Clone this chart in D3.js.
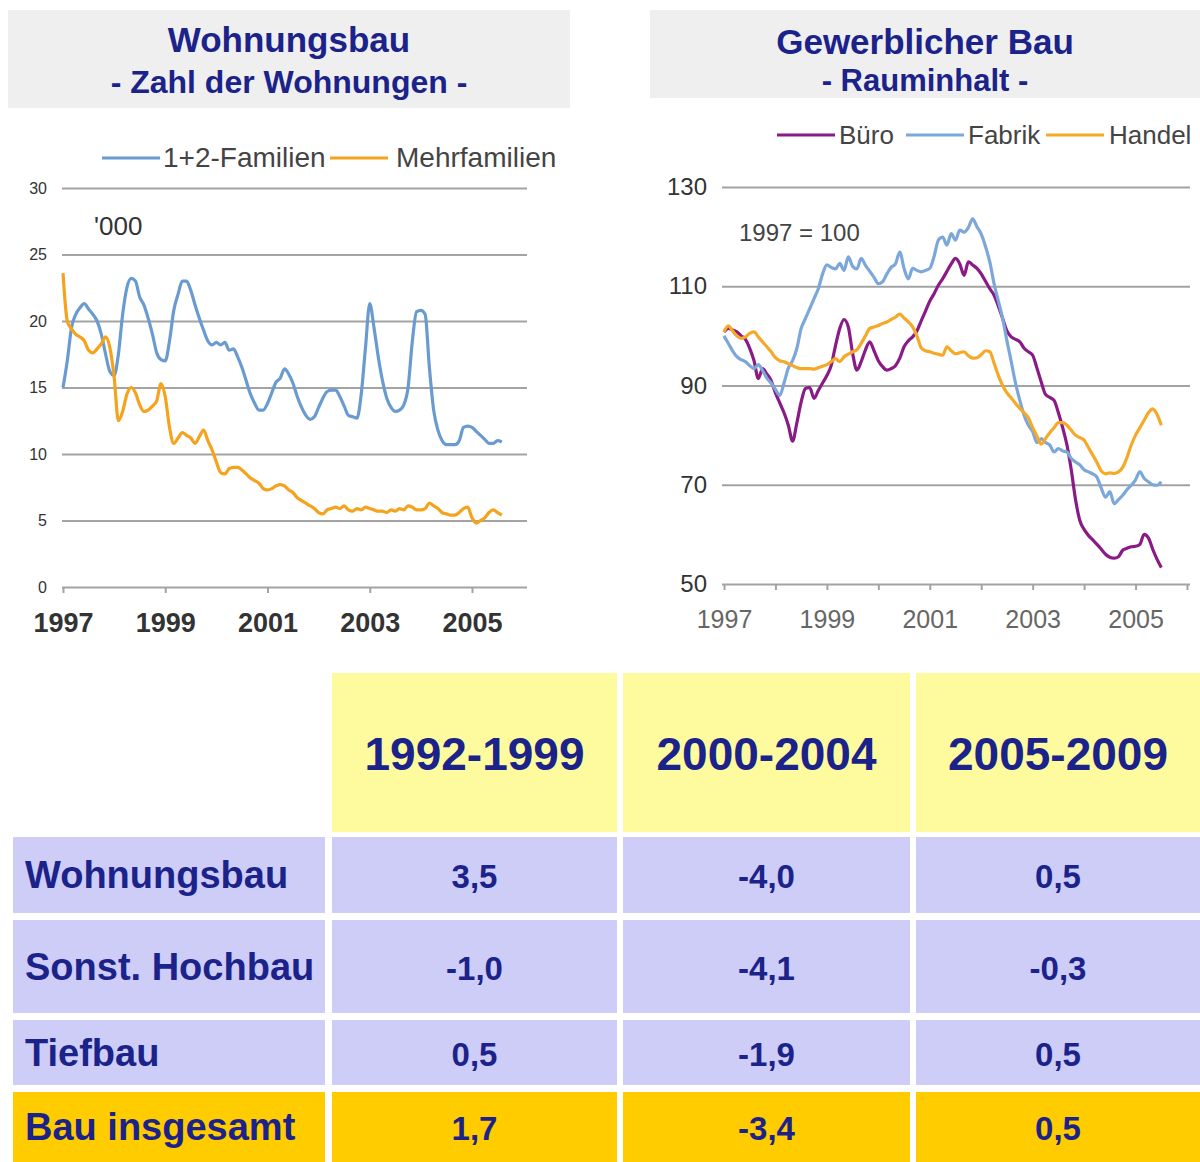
<!DOCTYPE html>
<html>
<head>
<meta charset="utf-8">
<script src="https://cdn.jsdelivr.net/npm/d3@7"></script>
<style>
  body { margin: 0; background: #ffffff; }
  svg text { font-family: "Liberation Sans", Arial, sans-serif; }
</style>
</head>
<body>
<script>
// ---- data ----
// monthly values from Jan 1997
var familien12 = [15.0,17.0,19.5,20.5,21.0,21.3,20.9,20.5,20.0,19.0,17.5,16.2,
  15.9,17.5,20.5,22.5,23.2,23.0,21.8,21.2,20.2,19.0,17.6,17.1,
  17.0,18.5,20.8,22.0,23.0,23.0,22.3,21.2,20.2,19.3,18.5,18.2,
  18.4,18.2,18.4,17.8,17.9,17.3,16.5,15.5,14.5,13.8,13.3,13.3,
  13.8,14.6,15.4,15.7,16.4,16.0,15.3,14.3,13.5,12.9,12.6,12.8,
  13.5,14.2,14.7,14.8,14.8,14.3,13.6,12.9,12.8,12.7,14.5,18.0,
  21.3,19.5,17.3,15.5,14.2,13.5,13.2,13.3,13.7,15.0,18.5,20.7,
  20.8,20.5,16.5,13.3,11.8,11.0,10.7,10.7,10.7,11.0,12.0,12.1,
  12.0,11.7,11.4,11.1,10.8,10.8,11.0,10.9];
var mehrfamilien = [23.6,20.0,19.4,19.0,18.8,18.5,17.8,17.6,17.9,18.3,18.8,18.0,
  15.8,12.5,13.2,14.5,15.0,14.6,13.7,13.2,13.3,13.6,14.0,15.3,
  14.3,12.0,10.8,11.2,11.6,11.4,11.2,10.8,11.3,11.8,11.0,10.3,
  9.4,8.6,8.5,8.9,9.0,9.0,8.8,8.5,8.2,8.0,7.8,7.4,
  7.3,7.4,7.6,7.7,7.6,7.3,7.1,6.7,6.5,6.3,6.1,5.9,
  5.6,5.5,5.8,5.9,6.0,5.9,6.1,5.8,5.7,5.9,5.8,6.0,
  5.9,5.8,5.7,5.7,5.6,5.8,5.7,5.9,5.8,6.1,6.0,5.8,
  5.8,5.9,6.3,6.1,5.9,5.6,5.5,5.4,5.4,5.6,5.9,6.0,
  5.2,4.8,5.0,5.2,5.6,5.8,5.6,5.4];

var buero = [100.8,101.5,101.2,100.8,100.0,99.3,97.5,95.0,91.4,93.4,92.3,91.0,
  88.5,86.5,84.5,82.0,78.8,82.5,86.7,89.4,89.6,87.4,89.0,90.5,
  92.0,94.0,98.0,101.5,103.3,101.8,96.5,93.1,94.8,97.2,98.8,97.0,
  95.0,93.8,93.1,93.4,94.0,95.5,97.8,99.0,99.8,101.0,103.0,105.0,
  107.0,108.5,110.2,111.5,113.0,114.5,115.6,114.5,112.2,114.9,114.3,113.6,
  112.5,111.0,109.5,108.2,106.0,103.5,101.0,99.8,99.3,98.8,97.5,96.8,
  96.1,93.5,90.7,88.2,87.6,87.0,84.5,81.5,78.0,73.0,67.0,62.8,
  61.0,59.8,58.9,58.0,57.0,56.0,55.4,55.2,55.5,56.8,57.2,57.5,
  57.6,58.0,60.0,59.3,57.0,55.0,53.3];
var fabrik = [100.0,98.5,97.0,95.8,95.2,94.8,94.0,93.4,94.2,93.0,91.5,90.5,
  89.2,88.0,90.5,93.5,95.0,97.5,101.5,103.5,105.5,107.5,109.5,112.5,
  114.3,113.8,113.5,114.6,113.2,115.9,114.0,113.5,115.6,114.2,113.0,111.8,
  110.5,110.9,112.5,113.8,114.5,116.9,113.6,111.5,113.6,113.2,112.9,113.2,
  113.6,116.0,119.3,119.9,118.3,120.6,119.3,121.3,120.9,121.8,123.6,122.0,
  120.5,118.0,114.9,110.5,107.0,103.5,99.0,94.8,90.5,87.0,84.0,82.0,
  80.7,78.5,79.3,78.5,78.0,76.6,77.3,76.8,76.6,75.3,74.6,74.0,
  73.0,72.6,72.2,71.5,69.3,67.5,68.6,66.2,67.0,67.9,69.0,69.9,
  71.0,72.6,71.3,70.6,70.0,69.9,70.6];
var handel = [100.8,102.0,101.0,100.0,99.5,99.8,100.5,100.8,99.8,98.8,97.8,96.8,
  95.6,95.0,94.8,94.4,94.0,93.6,93.4,93.4,93.4,93.3,93.6,93.9,
  94.2,94.8,95.4,94.8,95.8,96.3,96.8,97.2,98.5,100.0,101.5,101.8,
  102.1,102.5,102.8,103.3,103.8,104.4,103.6,102.8,101.8,100.0,97.6,97.0,
  96.8,96.5,96.3,96.1,97.8,97.0,96.4,96.6,96.8,96.0,95.5,95.6,
  96.2,97.0,96.8,94.5,92.0,90.0,88.5,87.5,86.4,85.4,84.5,83.5,
  81.5,79.8,78.2,79.3,80.5,81.5,82.5,82.5,82.0,81.0,80.0,79.5,
  79.0,77.5,76.0,74.5,72.8,72.2,72.4,72.3,72.6,73.5,75.5,78.0,
  80.0,81.5,83.0,84.5,85.3,84.2,82.0];

var leftTicksY = [0, 5, 10, 15, 20, 25, 30];
var leftTicksX = [1997, 1999, 2001, 2003, 2005];
var rightTicksY = [50, 70, 90, 110, 130];
var rightTicksX = [1997, 1998, 1999, 2000, 2001, 2002, 2003, 2004, 2005, 2006];
var rightLabelsX = [1997, 1999, 2001, 2003, 2005];

var periods = ["1992-1999", "2000-2004", "2005-2009"];
var sectors = ["Wohnungsbau", "Sonst. Hochbau", "Tiefbau", "Bau insgesamt"];
var growth = [[3.5, -4.0, 0.5], [-1.0, -4.1, -0.3], [0.5, -1.9, 0.5], [1.7, -3.4, 0.5]];

var navy = "#1b238a";
var grid = "#a3a3a3";

var svg = d3.select("body").append("svg")
    .attr("width", 1200)
    .attr("height", 1162);

// ---- title boxes ----
function titleBox(x0, x1, y0, y1, line1, line2, ty1, ty2, fs1, fs2) {
  svg.append("rect").attr("x", x0).attr("y", y0)
    .attr("width", x1 - x0).attr("height", y1 - y0).attr("fill", "#efefef");
  var cx = (x0 + x1) / 2;
  svg.append("text").attr("x", cx).attr("y", ty1).attr("text-anchor", "middle")
    .attr("font-size", fs1).attr("font-weight", "bold").attr("fill", navy).text(line1);
  svg.append("text").attr("x", cx).attr("y", ty2).attr("text-anchor", "middle")
    .attr("font-size", fs2).attr("font-weight", "bold").attr("fill", navy).text(line2);
}
titleBox(8, 570, 10, 108, "Wohnungsbau", "- Zahl der Wohnungen -", 52, 93, 35, 32);
titleBox(650, 1200, 10, 98, "Gewerblicher Bau", "- Rauminhalt -", 54, 91, 35, 31);

// ---- line chart helper ----
function lineChart(opt) {
  var x = d3.scaleLinear().domain(opt.xDomain).range(opt.xRange);
  var y = d3.scaleLinear().domain(opt.yDomain).range(opt.yRange);
  var g = svg.append("g");

  // grid + y labels
  var yAxis = g.append("g")
    .attr("transform", "translate(" + opt.gridX0 + ",0)")
    .call(d3.axisLeft(y).tickValues(opt.yTicks)
      .tickSize(-(opt.gridX1 - opt.gridX0)).tickPadding(opt.labelPad));
  yAxis.select(".domain").remove();
  yAxis.selectAll("line").attr("stroke", grid).attr("stroke-width", 2);
  yAxis.selectAll("text").attr("font-size", opt.yFont).attr("fill", "#333")
    .attr("font-family", "Liberation Sans, Arial, sans-serif");

  // x axis
  var xAxis = g.append("g")
    .attr("transform", "translate(0," + y(opt.yDomain[0]) + ")")
    .call(d3.axisBottom(x).tickValues(opt.xTicks).tickSize(6)
      .tickFormat(function(d) { return opt.xLabels.indexOf(d) >= 0 ? d : ""; })
      .tickPadding(opt.xPad));
  xAxis.select(".domain").remove();
  xAxis.selectAll("line").attr("stroke", grid).attr("stroke-width", 2);
  xAxis.selectAll("text").attr("font-size", opt.xFont).attr("fill", opt.xColor)
    .attr("font-weight", opt.xWeight)
    .attr("font-family", "Liberation Sans, Arial, sans-serif");

  var line = d3.line()
    .x(function(d, i) { return x(1997 + i / 12); })
    .y(function(d) { return y(d); })
    .curve(d3.curveMonotoneX);

  opt.series.forEach(function(s) {
    g.append("path").datum(s.values)
      .attr("fill", "none").attr("stroke", s.color)
      .attr("stroke-width", 3.2).attr("stroke-linejoin", "round")
      .attr("d", line);
  });

  // legend
  opt.series.forEach(function(s) {
    g.append("line").attr("x1", s.lx).attr("x2", s.lx + 58)
      .attr("y1", opt.legendY).attr("y2", opt.legendY)
      .attr("stroke", s.color).attr("stroke-width", 3);
    g.append("text").attr("x", s.lx + s.gap).attr("y", opt.legendY + 9)
      .attr("font-size", opt.legendFont).attr("fill", "#444").text(s.name);
  });
}

lineChart({
  xDomain: [1997, 2005], xRange: [63, 472],
  yDomain: [0, 30], yRange: [587, 188],
  gridX0: 62, gridX1: 527, labelPad: 15, yFont: 16,
  yTicks: leftTicksY, xTicks: leftTicksX, xLabels: leftTicksX,
  xFont: 27, xColor: "#333", xWeight: "bold", xPad: 20,
  legendY: 158, legendFont: 28,
  series: [
    { name: "1+2-Familien", values: familien12, color: "#6a9bd0", lx: 102, gap: 61 },
    { name: "Mehrfamilien", values: mehrfamilien, color: "#f5a21d", lx: 330, gap: 66 }
  ]
});
svg.append("text").attr("x", 94).attr("y", 235).attr("font-size", 26)
  .attr("fill", "#333").text("'000");

lineChart({
  xDomain: [1997, 2006], xRange: [724, 1187],
  yDomain: [50, 130], yRange: [584, 187],
  gridX0: 722, gridX1: 1190, labelPad: 15, yFont: 24,
  yTicks: rightTicksY, xTicks: rightTicksX, xLabels: rightLabelsX,
  xFont: 25, xColor: "#666", xWeight: "normal", xPad: 20,
  legendY: 135, legendFont: 26,
  series: [
    { name: "Büro", values: buero, color: "#8a1a86", lx: 777, gap: 62 },
    { name: "Fabrik", values: fabrik, color: "#7ba7da", lx: 906, gap: 62 },
    { name: "Handel", values: handel, color: "#f6a928", lx: 1046, gap: 63 }
  ]
});
svg.append("text").attr("x", 739).attr("y", 241).attr("font-size", 24)
  .attr("fill", "#444").text("1997 = 100");

// ---- table ----
var colEdges = [[13, 325], [332, 617], [623, 910], [916, 1200]];
var rowEdges = [[673, 832], [837, 913], [920, 1013], [1020, 1085], [1092, 1162]];
var fmt = d3.formatLocale({ decimal: ",", thousands: ".", grouping: [3], currency: ["", " €"] }).format(".1f");

var tbl = svg.append("g");
periods.forEach(function(p, j) {
  var c = colEdges[j + 1], r = rowEdges[0];
  tbl.append("rect").attr("x", c[0]).attr("y", r[0])
    .attr("width", c[1] - c[0]).attr("height", r[1] - r[0]).attr("fill", "#fdfb9e");
  tbl.append("text").attr("x", (c[0] + c[1]) / 2).attr("y", (r[0] + r[1]) / 2 + 17)
    .attr("text-anchor", "middle").attr("font-size", 46).attr("font-weight", "bold")
    .attr("fill", navy).text(p);
});
sectors.forEach(function(s, i) {
  var r = rowEdges[i + 1];
  var fill = i === sectors.length - 1 ? "#ffcc00" : "#cdcdf8";
  colEdges.forEach(function(c) {
    tbl.append("rect").attr("x", c[0]).attr("y", r[0])
      .attr("width", c[1] - c[0]).attr("height", r[1] - r[0]).attr("fill", fill);
  });
  var cy = (r[0] + r[1]) / 2 + 13;
  tbl.append("text").attr("x", 25).attr("y", cy)
    .attr("font-size", 38).attr("font-weight", "bold").attr("fill", navy).text(s);
  growth[i].forEach(function(v, j) {
    var c = colEdges[j + 1];
    tbl.append("text").attr("x", (c[0] + c[1]) / 2).attr("y", cy)
      .attr("text-anchor", "middle").attr("font-size", 33).attr("font-weight", "bold")
      .attr("fill", navy).text(fmt(v).replace("−", "-"));
  });
});
</script>
</body>
</html>
